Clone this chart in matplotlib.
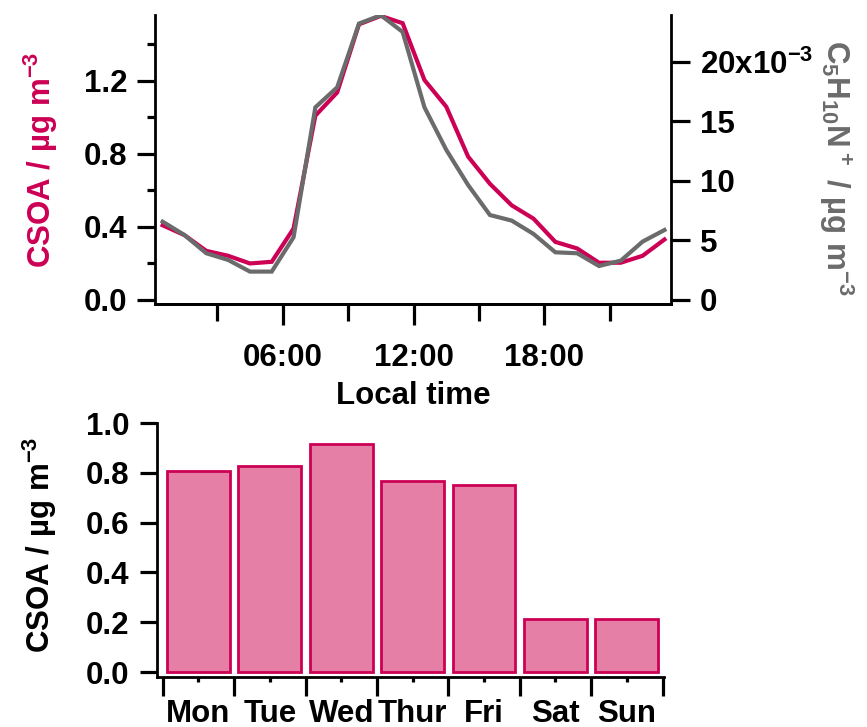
import matplotlib
matplotlib.use("Agg")
import matplotlib.pyplot as plt
from matplotlib.ticker import FixedLocator, FuncFormatter, NullFormatter, FixedFormatter
import numpy as np

plt.rcParams['font.family'] = 'Liberation Sans'
plt.rcParams['font.weight'] = 'bold'
plt.rcParams['axes.labelweight'] = 'bold'
plt.rcParams['font.size'] = 22.5
plt.rcParams['mathtext.default'] = 'regular'
plt.rcParams['axes.linewidth'] = 2

CSOA_COLOR = "#CC0055"
ION_COLOR = "#6B6B6B"
BAR_FILL = "#E57FA6"

# diurnal cycle, hourly means (plotted at the middle of each hour)
HOURS = np.arange(24) + 0.5
CSOA_DIURNAL = [0.409, 0.355, 0.269, 0.242, 0.200, 0.209, 0.391, 1.009,
                1.136, 1.509, 1.555, 1.515, 1.204, 1.058, 0.785, 0.636,
                0.518, 0.445, 0.318, 0.282, 0.204, 0.204, 0.242, 0.331]
# C5H10N+ in units of 1e-3 ug m-3
C5H10N_DIURNAL = [6.57, 5.45, 3.92, 3.36, 2.38, 2.38, 5.26, 16.17,
                  17.85, 23.2, 23.9, 22.5, 16.17, 12.6, 9.65, 7.13,
                  6.66, 5.54, 4.0, 3.92, 2.85, 3.30, 4.90, 5.87]

# day-of-week means
DAYS = ["Mon", "Tue", "Wed", "Thur", "Fri", "Sat", "Sun"]
CSOA_WEEKLY = [0.808, 0.827, 0.915, 0.768, 0.753, 0.212, 0.212]

fig = plt.figure(figsize=(8.67, 7.27), dpi=100)

# ---------------- diurnal panel ----------------
ax = fig.add_axes([155/867, 1-304/727, 516/867, 289/727])
ax.plot(HOURS, CSOA_DIURNAL, color=CSOA_COLOR, lw=3, solid_joinstyle='miter')
ax.set_xlim(0.15, 23.8)
ax.set_ylim(-0.022, 1.56)
ax.spines['top'].set_visible(False)
ax.spines['right'].set_visible(False)

ax.xaxis.set_major_locator(FixedLocator([6, 12, 18]))
ax.xaxis.set_major_formatter(FixedFormatter(["06:00", "12:00", "18:00"]))
ax.xaxis.set_minor_locator(FixedLocator([3, 9, 15, 21]))
ax.xaxis.set_minor_formatter(NullFormatter())
ax.tick_params(axis='x', which='major', direction='out', length=15, width=2.3, pad=13)
ax.tick_params(axis='x', which='minor', direction='out', length=12, width=2.3)

ax.yaxis.set_major_locator(FixedLocator([0, 0.4, 0.8, 1.2]))
ax.yaxis.set_major_formatter(FuncFormatter(lambda v, p: "%.1f" % v))
ax.yaxis.set_minor_locator(FixedLocator([0.2, 0.6, 1.0, 1.4]))
ax.tick_params(axis='y', which='major', direction='out', length=13, width=2.3, pad=7)
ax.tick_params(axis='y', which='minor', direction='out', length=6, width=2.3)

ax.set_xlabel("Local time", labelpad=6)
ax.text(-0.222, 0.5, "CSOA / µg m$^{-3}$", color=CSOA_COLOR, rotation=90,
        ha='center', va='center', transform=ax.transAxes)

ax1 = ax.twinx()
ax1.plot(HOURS, C5H10N_DIURNAL, color=ION_COLOR, lw=3, solid_joinstyle='miter')
ax1.set_ylim(-0.34, 23.92)
ax1.spines['top'].set_visible(False)
ax1.spines['left'].set_visible(False)
ax1.yaxis.set_major_locator(FixedLocator([0, 5, 10, 15, 20]))
ax1.yaxis.set_major_formatter(FuncFormatter(
    lambda v, p: "20x10$^{-3}$" if v == 20 else "%d" % v))
ax1.tick_params(axis='y', which='major', direction='out', length=14, width=2.3, pad=7)
ax1.text(1.32, 0.47, "C$_5$H$_{10}$N$^+$ / µg m$^{-3}$", color=ION_COLOR,
         rotation=270, ha='center', va='center', transform=ax1.transAxes)

# ---------------- weekly panel ----------------
bx = fig.add_axes([157/867, 1-677/727, 507/867, 254/727])
pos = np.arange(len(DAYS))
bx.bar(pos, CSOA_WEEKLY, width=0.88, color=BAR_FILL, edgecolor=CSOA_COLOR, linewidth=2)
bx.set_xlim(-0.58, 6.52)
bx.set_ylim(-0.02, 1.0)
bx.spines['top'].set_visible(False)
bx.spines['right'].set_visible(False)

bx.xaxis.set_major_locator(FixedLocator(np.arange(len(DAYS) + 1) - 0.5))
bx.xaxis.set_major_formatter(NullFormatter())
bx.xaxis.set_minor_locator(FixedLocator(pos))
bx.xaxis.set_minor_formatter(FixedFormatter(DAYS))
bx.tick_params(axis='x', which='major', direction='out', length=14, width=2.3)
bx.tick_params(axis='x', which='minor', direction='out', length=3.5, width=2.3, pad=12)

bx.yaxis.set_major_locator(FixedLocator([0, 0.2, 0.4, 0.6, 0.8, 1.0]))
bx.yaxis.set_major_formatter(FuncFormatter(lambda v, p: "%.1f" % v))
bx.tick_params(axis='y', which='major', direction='out', length=12, width=2.3, pad=8)
bx.text(-0.232, 0.52, "CSOA / µg m$^{-3}$", color='black', rotation=90,
        ha='center', va='center', transform=bx.transAxes)

fig.savefig("out.png", dpi=100)
